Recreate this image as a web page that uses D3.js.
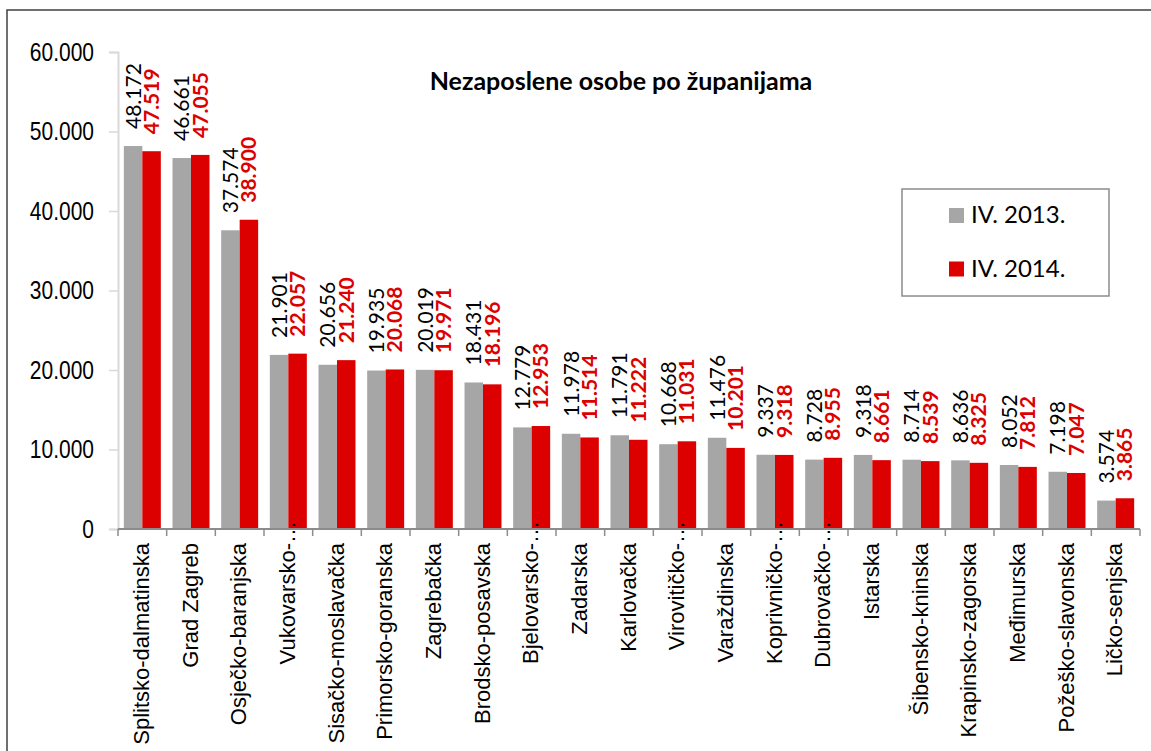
<!DOCTYPE html>
<html><head><meta charset="utf-8">
<script src="https://cdn.jsdelivr.net/npm/d3@7"></script>
<style>
html,body{margin:0;padding:0;background:#fff;overflow:hidden;}
</style></head>
<body>
<svg id="chart" width="1151" height="751"></svg>
<script>
const categories = ["Splitsko-dalmatinska","Grad Zagreb","Osječko-baranjska","Vukovarsko-…","Sisačko-moslavačka","Primorsko-goranska","Zagrebačka","Brodsko-posavska","Bjelovarsko-…","Zadarska","Karlovačka","Virovitičko-…","Varaždinska","Koprivničko-…","Dubrovačko-…","Istarska","Šibensko-kninska","Krapinsko-zagorska","Međimurska","Požeško-slavonska","Ličko-senjska"];
const values2013 = [48172,46661,37574,21901,20656,19935,20019,18431,12779,11978,11791,10668,11476,9337,8728,9318,8714,8636,8052,7198,3574];
const values2014 = [47519,47055,38900,22057,21240,20068,19971,18196,12953,11514,11222,11031,10201,9318,8955,8661,8539,8325,7812,7047,3865];
const seriesNames = ["IV. 2013.","IV. 2014."];
const yTicks = [0,10000,20000,30000,40000,50000,60000];
const title = "Nezaposlene osobe po županijama";

const colors = ["#a6a6a6","#dd0000"];
const loc = d3.formatLocale({thousands:".", decimal:",", grouping:[3], currency:["",""]});
const fmt = loc.format(",d");

const svg = d3.select("#chart");
const pLeft = 118, pRight = 1140, pTop = 52, pBottom = 529;

// outer frame
svg.append("rect").attr("x",7).attr("y",10).attr("width",1200).attr("height",800)
  .attr("fill","#fff").attr("stroke","#404040").attr("stroke-width",1.5);

const x = d3.scaleBand().domain(categories).range([pLeft,pRight]).paddingInner(0.24).paddingOuter(0.12);
const x1 = d3.scaleBand().domain([0,1]).range([0,x.bandwidth()]);
const y = d3.scaleLinear().domain([0,60000]).range([pBottom,pTop]);

// y axis
const squeeze = 0.84;
const yAxis = svg.append("g").attr("transform",`translate(${pLeft},0)`)
  .call(d3.axisLeft(y).tickValues(yTicks).tickSize(9).tickPadding(15).tickFormat(d=>d===0?"0":fmt(d)));
yAxis.select(".domain").attr("stroke","#d9d9d9").attr("stroke-width",2);
yAxis.selectAll(".tick line").attr("stroke","#d9d9d9").attr("stroke-width",1.5);
yAxis.selectAll(".tick text").attr("font-family","'Liberation Sans',Arial,sans-serif")
  .attr("font-size",25).attr("fill","#000")
  .attr("x",-24/squeeze).attr("transform",`scale(${squeeze},1)`);

// bars
const groups = svg.append("g").selectAll("g").data(categories).join("g")
  .attr("transform",d=>`translate(${x(d)},0)`);
[values2013, values2014].forEach((vals,s)=>{
  groups.append("rect")
    .attr("x",x1(s)).attr("width",x1.bandwidth())
    .attr("y",(d,i)=>y(vals[i])).attr("height",(d,i)=>y(0)-y(vals[i]))
    .attr("fill",colors[s]);
});

// x axis
const xa = svg.append("g");
xa.append("line").attr("x1",pLeft).attr("x2",pRight).attr("y1",pBottom).attr("y2",pBottom)
  .attr("stroke","#8c8c8c").attr("stroke-width",2);
d3.range(categories.length+1).forEach(i=>{
  const xx = pLeft + i*(pRight-pLeft)/categories.length;
  xa.append("line").attr("x1",xx).attr("x2",xx).attr("y1",pBottom).attr("y2",pBottom+7)
    .attr("stroke","#8c8c8c").attr("stroke-width",1.5);
});

// category labels
categories.forEach(c=>{
  const cx = x(c) + x.bandwidth()/2 - 1;
  const hasEll = c.endsWith("…");
  const main = hasEll ? c.slice(0,-1) : c;
  const g = svg.append("g").attr("transform",`translate(${cx},543) rotate(-90)`);
  g.append("text").attr("text-anchor","end").attr("dy","0.35em")
    .attr("font-family","'Liberation Sans',Arial,sans-serif").attr("font-size",22).attr("fill","#000")
    .text(main);
  if(hasEll){
    g.append("text").attr("text-anchor","start").attr("x",0).attr("dy","0.35em")
      .attr("font-family","'Liberation Sans',Arial,sans-serif").attr("font-size",22).attr("fill","#000")
      .text("…");
  }
});

// value labels
[values2013, values2014].forEach((vals,s)=>{
  categories.forEach((c,i)=>{
    const cx = x(c) + x1(s) + x1.bandwidth()/2;
    const yy = y(vals[i]) - 17;
    svg.append("text").attr("transform",`translate(${cx},${yy}) rotate(-90)`)
      .attr("text-anchor","start").attr("dy","0.36em")
      .attr("font-family","Lato,'Liberation Sans',sans-serif").attr("font-size",21)
      .attr("font-weight",s===1?"bold":"normal")
      .attr("fill",s===1?"#dd0000":"#000")
      .text(fmt(vals[i]));
  });
});

// title
svg.append("text").attr("x",621).attr("y",90).attr("text-anchor","middle")
  .attr("font-family","Lato,'Liberation Sans',sans-serif").attr("font-weight","bold").attr("font-size",25)
  .attr("fill","#000").text(title);

// legend
const lg = svg.append("g");
lg.append("rect").attr("x",902).attr("y",189).attr("width",207).attr("height",107)
  .attr("fill","#fff").attr("stroke","#8c8c8c").attr("stroke-width",1.5);
seriesNames.forEach((n,i)=>{
  const yy = 208 + i*53.5;
  lg.append("rect").attr("x",949).attr("y",yy).attr("width",15).attr("height",15).attr("fill",colors[i]);
  lg.append("text").attr("x",971).attr("y",yy+15).attr("font-family","Lato,'Liberation Sans',sans-serif")
    .attr("font-size",24).attr("fill","#000").text(n);
});
</script>
</body></html>
